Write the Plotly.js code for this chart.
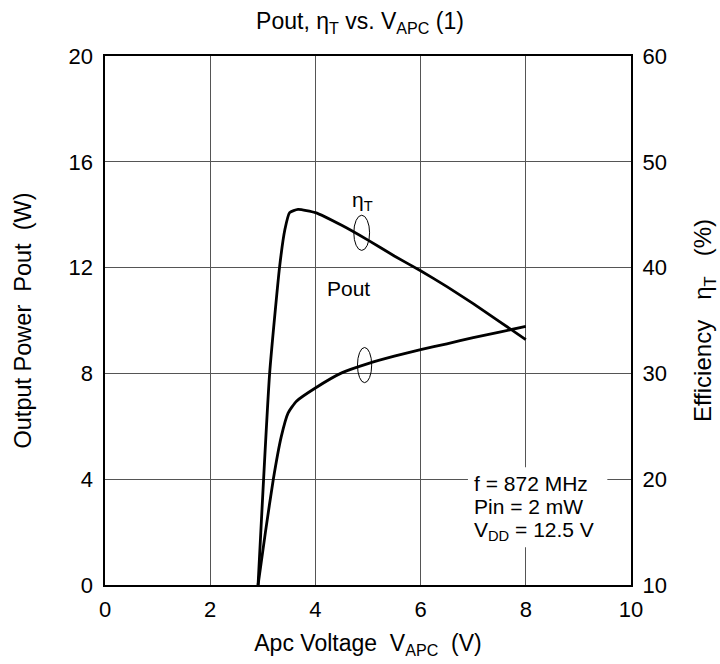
<!DOCTYPE html>
<html>
<head>
<meta charset="utf-8">
<script src="https://cdn.plot.ly/plotly-3.0.1.min.js"></script>
<style>html,body{margin:0;padding:0;background:#fff;}#chart{width:720px;height:664px;}</style>
</head>
<body>
<div id="chart"></div>
<script>
// Output power Pout (W) vs Apc voltage (V)
const poutX = [2.91, 3.05, 3.2, 3.35, 3.48, 3.64, 4.0, 4.5, 5.0, 5.5, 6.0, 6.5, 7.0, 7.5, 8.0];
const poutY = [0, 2.0, 4.0, 5.6, 6.5, 6.95, 7.45, 8.02, 8.37, 8.65, 8.9, 9.12, 9.35, 9.56, 9.78];
// Efficiency eta_T (%) vs Apc voltage (V)
const etaX = [2.91, 3.13, 3.32, 3.42, 3.51, 3.67, 4.0, 4.5, 5.0, 5.5, 6.0, 6.5, 7.0, 7.5, 8.0];
const etaY = [10, 30, 40.1, 43.6, 45.2, 45.5, 45.2, 44.0, 42.6, 41.1, 39.7, 38.2, 36.6, 34.9, 33.2];
// Condition notes
const notes = ['f = 872 MHz', 'Pin = 2 mW', 'V<sub>DD</sub> = 12.5 V'];

const FONT = "Liberation Sans, Arial, sans-serif";
const NOTE_Y = [3.85, 2.95, 2.05];

const traces = [
  {x: poutX, y: poutY, mode: 'lines', line: {color: '#000', width: 2.8, shape: 'spline', smoothing: 0.5}, yaxis: 'y', hoverinfo: 'skip', showlegend: false},
  {x: etaX, y: etaY, mode: 'lines', line: {color: '#000', width: 2.8, shape: 'spline', smoothing: 0.5}, yaxis: 'y2', hoverinfo: 'skip', showlegend: false}
];

const annotations = [
  {text: 'η<sub>T</sub>', xref: 'x', yref: 'y', x: 4.9, y: 14.5, showarrow: false, font: {family: FONT, size: 21}},
  {text: 'Pout', xref: 'x', yref: 'y', x: 4.62, y: 11.2, showarrow: false, font: {family: FONT, size: 21}}
];
notes.forEach((t, i) => annotations.push({
  text: t, xref: 'x', yref: 'y', x: 6.97, y: NOTE_Y[i], xanchor: 'left', yanchor: 'middle',
  align: 'left', showarrow: false, font: {family: FONT, size: 21}
}));

const layout = {
  width: 720, height: 664,
  margin: {l: 105, r: 89, t: 56, b: 79},
  paper_bgcolor: '#fff', plot_bgcolor: '#fff',
  font: {family: FONT, size: 22, color: '#000'},
  title: {text: 'Pout, η<sub>T</sub> vs. V<sub>APC</sub> (1)', font: {family: FONT, size: 23, color: '#000'}, x: 0.5, xanchor: 'center', y: 0.968, yanchor: 'middle', yref: 'container'},
  xaxis: {
    range: [0, 10], dtick: 2, tick0: 0, showgrid: true, gridcolor: '#555', gridwidth: 1,
    showline: true, linecolor: '#000', linewidth: 1.6, mirror: true, zeroline: false,
    ticks: 'outside', ticklen: 4, tickcolor: 'rgba(0,0,0,0)',
    tickfont: {family: FONT, size: 22},
    title: {text: 'Apc Voltage&nbsp;&nbsp;V<sub>APC</sub>&nbsp;&nbsp;(V)', font: {family: FONT, size: 23}, standoff: 14}
  },
  yaxis: {
    range: [0, 20], dtick: 4, tick0: 0, showgrid: true, gridcolor: '#555', gridwidth: 1,
    showline: true, linecolor: '#000', linewidth: 1.6, mirror: true, zeroline: false,
    ticks: 'outside', ticklen: 6, tickcolor: 'rgba(0,0,0,0)',
    tickfont: {family: FONT, size: 22},
    title: {text: 'Output Power&nbsp;&nbsp;Pout&nbsp;&nbsp;(W)', font: {family: FONT, size: 23.5}, standoff: 30}
  },
  yaxis2: {
    range: [10, 60], dtick: 10, tick0: 10, overlaying: 'y', side: 'right', showgrid: false,
    showline: false, zeroline: false,
    ticks: 'outside', ticklen: 6, tickcolor: 'rgba(0,0,0,0)',
    tickfont: {family: FONT, size: 22},
    title: {text: 'Efficiency&nbsp;&nbsp;&nbsp;η<sub>T</sub>&nbsp;&nbsp;&nbsp;(%)', font: {family: FONT, size: 24}, standoff: 29}
  },
  shapes: [
    {type: 'rect', xref: 'x', yref: 'y', x0: 6.9, x1: 9.55, y0: 1.43, y1: 4.45, fillcolor: '#fff', line: {width: 0}, layer: 'between'},
    {type: 'circle', xref: 'x', yref: 'y', x0: 4.73, x1: 5.03, y0: 12.65, y1: 13.98, line: {color: '#000', width: 1}},
    {type: 'circle', xref: 'x', yref: 'y', x0: 4.8, x1: 5.07, y0: 7.65, y1: 8.98, line: {color: '#000', width: 1}}
  ],
  annotations: annotations
};

Plotly.newPlot('chart', traces, layout, {displayModeBar: false, staticPlot: true});
</script>
</body>
</html>
